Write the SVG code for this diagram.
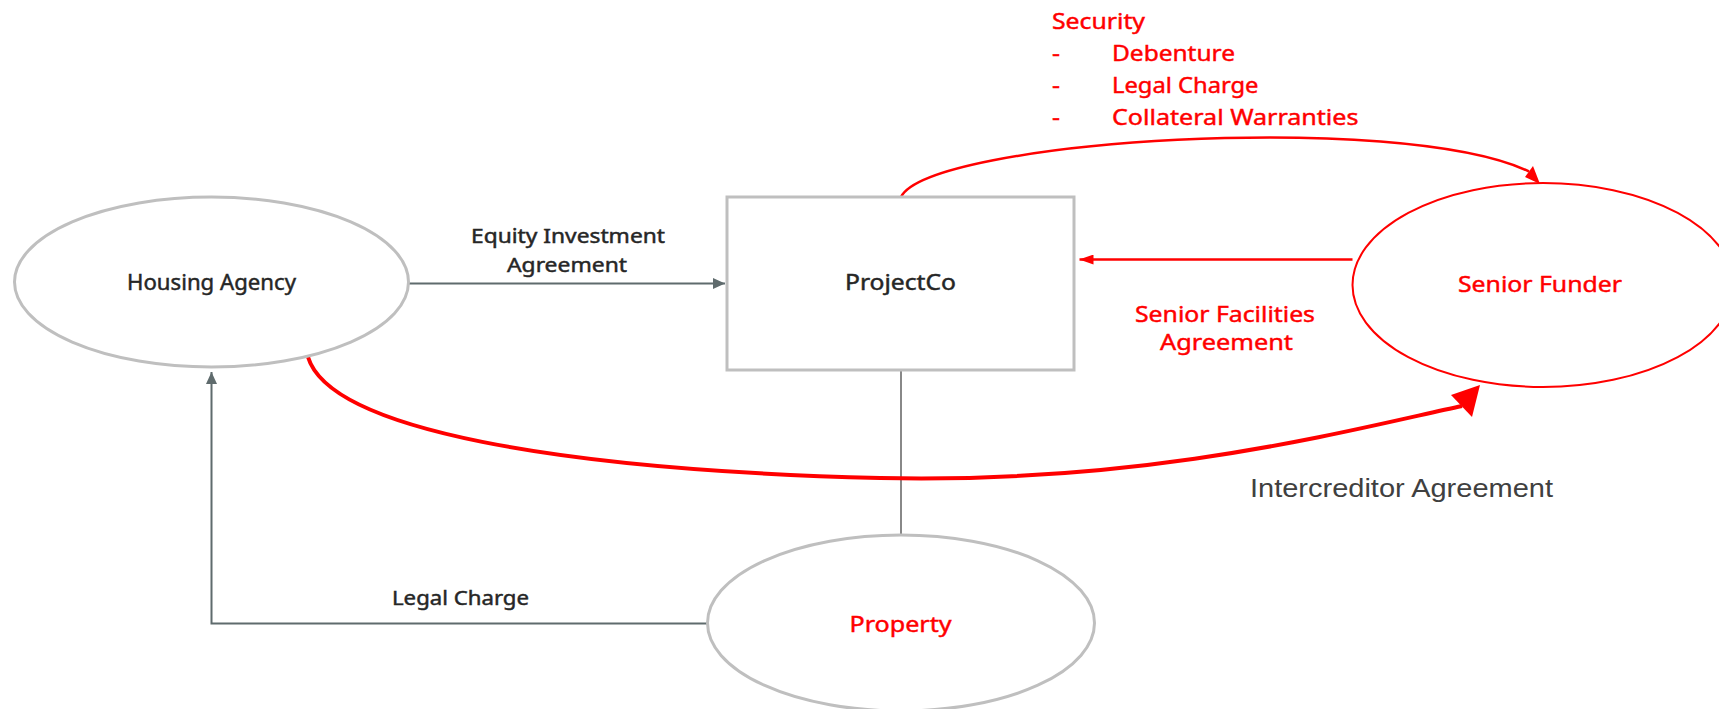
<svg xmlns="http://www.w3.org/2000/svg" width="1719" height="709" viewBox="0 0 1719 709">
<defs>
<style>
.ng{fill:#ffffff;stroke:#bfbfbf;stroke-width:3}
.nr{fill:#ffffff;stroke:#ff0000;stroke-width:2}
.t{font-family:"Noto Sans","Open Sans","DejaVu Sans",sans-serif;stroke-width:0.45}
.dk{fill:#262626;stroke:#262626}
.rd{fill:#ff0000;stroke:#ff0000}
.gl{fill:none;stroke:#5f6b6d;stroke-width:2}
.rl{fill:none;stroke:#ff0000;stroke-width:2.5}
</style>
<marker id="ga" markerUnits="userSpaceOnUse" markerWidth="12" markerHeight="11" viewBox="0 0 12 11" refX="12" refY="5.5" orient="auto"><path d="M0,0 L12,5.5 L0,11 z" fill="#5f6b6d"/></marker>
<marker id="ra" markerUnits="userSpaceOnUse" markerWidth="14" markerHeight="10" viewBox="0 0 14 10" refX="14" refY="5" orient="auto"><path d="M0,0 L14,5 L0,10 z" fill="#ff0000"/></marker>
</defs>
<rect x="0" y="0" width="1719" height="709" fill="#ffffff"/>

<g id="connectors">
  <line class="gl" x1="409" y1="283.5" x2="725" y2="283.5" marker-end="url(#ga)"/>
  <polyline class="gl" points="707.5,623.5 211.5,623.5 211.5,372" marker-end="url(#ga)"/>
  <line x1="901" y1="370" x2="901" y2="535" stroke="#606060" stroke-width="1.5"/>
  <line class="rl" x1="1352.5" y1="259.5" x2="1079.5" y2="259.5" marker-end="url(#ra)"/>
  <path class="rl" stroke-width="2" d="M 901 197 C 930 140, 1400 110, 1529 171.5"/>
  <polygon points="1540,184 1525,177 1533,166" fill="#ff0000"/>
  <path fill="none" stroke="#ff0000" stroke-width="4" d="M 308 357 C 330 430, 560 470, 880 478 C 1150 484, 1350 430, 1462 406"/>
  <polygon points="1480,385 1451,395 1472,417" fill="#ff0000"/>
  <text class="t dk" x="471" y="243" font-size="19" textLength="194" lengthAdjust="spacingAndGlyphs">Equity Investment</text>
  <text class="t dk" x="507" y="272" font-size="19" textLength="120" lengthAdjust="spacingAndGlyphs">Agreement</text>
  <text class="t dk" x="392" y="605" font-size="19.5" textLength="137" lengthAdjust="spacingAndGlyphs">Legal Charge</text>
  <text class="t rd" x="1135" y="322" font-size="22" textLength="180" lengthAdjust="spacingAndGlyphs">Senior Facilities</text>
  <text class="t rd" x="1160" y="350" font-size="22" textLength="133" lengthAdjust="spacingAndGlyphs">Agreement</text>
  <text class="t rd" x="1052" y="29" font-size="22" textLength="93" lengthAdjust="spacingAndGlyphs">Security</text>
  <text class="t rd" x="1052" y="61" font-size="22" textLength="8" lengthAdjust="spacingAndGlyphs">-</text>
  <text class="t rd" x="1112" y="61" font-size="22" textLength="123" lengthAdjust="spacingAndGlyphs">Debenture</text>
  <text class="t rd" x="1052" y="93" font-size="22" textLength="8" lengthAdjust="spacingAndGlyphs">-</text>
  <text class="t rd" x="1112" y="93" font-size="22" textLength="146.5" lengthAdjust="spacingAndGlyphs">Legal Charge</text>
  <text class="t rd" x="1052" y="125" font-size="22" textLength="8" lengthAdjust="spacingAndGlyphs">-</text>
  <text class="t rd" x="1112" y="125" font-size="22" textLength="246.5" lengthAdjust="spacingAndGlyphs">Collateral Warranties</text>
  <text x="1250" y="497" font-family="'Liberation Sans',Arial,sans-serif" font-size="25" fill="#404040" textLength="303" lengthAdjust="spacingAndGlyphs">Intercreditor Agreement</text>
</g>

<g id="housing-agency">
  <ellipse class="ng" cx="211.5" cy="282" rx="197" ry="85"/>
  <text class="t dk" x="127" y="290" font-size="21" textLength="169" lengthAdjust="spacingAndGlyphs">Housing Agency</text>
</g>
<g id="projectco">
  <rect class="ng" x="727" y="197" width="347" height="173"/>
  <text class="t dk" x="845" y="290" font-size="21" textLength="111" lengthAdjust="spacingAndGlyphs">ProjectCo</text>
</g>
<g id="senior-funder">
  <ellipse class="nr" cx="1543" cy="285" rx="190.5" ry="102"/>
  <text class="t rd" x="1458" y="292" font-size="22" textLength="164" lengthAdjust="spacingAndGlyphs">Senior Funder</text>
</g>
<g id="property">
  <ellipse class="ng" cx="901" cy="623" rx="193.5" ry="88"/>
  <text class="t rd" x="849.5" y="632" font-size="22" textLength="102" lengthAdjust="spacingAndGlyphs">Property</text>
</g>
</svg>
